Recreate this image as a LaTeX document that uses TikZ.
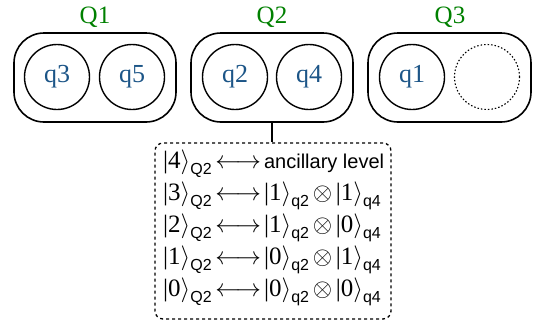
\documentclass[tikz,border=0pt]{standalone}
\usepackage{fontspec}
\setmainfont{Liberation Serif}
\setsansfont{Liberation Sans}
\definecolor{qgreen}{RGB}{0,128,0}
\definecolor{qblue}{RGB}{28,85,135}
\newcommand\myket[2]{|#1$\rangle$\raisebox{-0.25em}{\fontsize{16}{16}\selectfont\sffamily #2}}
\newcommand\harr{\hspace{0.15em}$\longleftrightarrow$\hspace{0.12em}}
\newcommand\tens{\hspace{0.15em}$\otimes$\hspace{0.15em}}
\begin{document}
\begin{tikzpicture}[x=1pt,y=-1pt,
  container/.style={draw,line width=1.6pt,rounded corners=30pt},
  qubit/.style={draw,circle,line width=1.4pt,minimum size=65pt,inner sep=0pt,text=qblue,font=\fontsize{26}{28}\selectfont},
  ghost/.style={draw,circle,line width=1.1pt,dash pattern=on 1.5pt off 2pt,minimum size=65pt,inner sep=0pt},
  grouplabel/.style={text=qgreen,anchor=base,font=\fontsize{25}{28}\selectfont},
  rowtext/.style={anchor=base west,inner sep=0pt,font=\fontsize{25}{27}\selectfont}]
\useasboundingbox (0,0) rectangle (543,327);
% containers
\draw[container] (14,33) rectangle (176,122);
\draw[container] (191,33) rectangle (353,122);
\draw[container] (368,33) rectangle (531,122);
\coordinate (Q2b) at (272,122);
% labels
\node[grouplabel] (L1) at (95,23) {Q1};
\node[grouplabel] (L2) at (272,23) {Q2};
\node[grouplabel] (L3) at (450,23) {Q3};
% qubits
\node[qubit] (q3) at (57,77) {q3};
\node[qubit] (q5) at (132,77) {q5};
\node[qubit] (q2) at (235,77) {q2};
\node[qubit] (q4) at (309,77) {q4};
\node[qubit] (q1) at (412,77) {q1};
\node[ghost] (qe) at (487,77) {};
% mapping box
\node[draw,dashed,line width=1.3pt,rounded corners=8pt,minimum width=236pt,minimum height=176pt] (box) at (273,231) {};
\draw[line width=1.3pt] (Q2b) -- (box.north -| Q2b);
\node[rowtext] (r4) at (163,168) {\myket{4}{Q2}\harr{\fontsize{20}{20}\selectfont\sffamily ancillary level}};
\node[rowtext] (r3) at (163,200) {\myket{3}{Q2}\harr\myket{1}{q2}\tens\myket{1}{q4}};
\node[rowtext] (r2) at (163,232) {\myket{2}{Q2}\harr\myket{1}{q2}\tens\myket{0}{q4}};
\node[rowtext] (r1) at (163,264) {\myket{1}{Q2}\harr\myket{0}{q2}\tens\myket{1}{q4}};
\node[rowtext] (r0) at (163,296) {\myket{0}{Q2}\harr\myket{0}{q2}\tens\myket{0}{q4}};
\end{tikzpicture}
\end{document}
